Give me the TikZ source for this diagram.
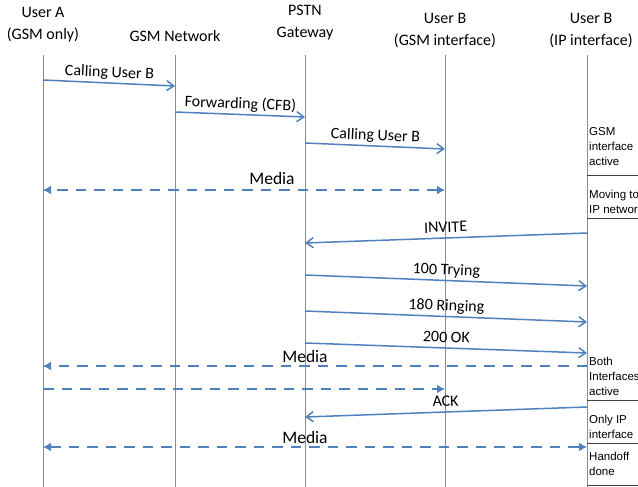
\documentclass[tikz,border=0pt]{standalone}
\usepackage{fontspec}
\setmainfont{Carlito}
\newfontfamily\notafont{Liberation Sans}
\usetikzlibrary{arrows.meta}
\definecolor{msgazul}{RGB}{79,129,189}
\tikzset{
  actor/.style={align=center, inner sep=0pt, font=\fontsize{16}{22}\selectfont},
  vida/.style={draw=black!45, line width=0.8pt},
  msg/.style={-{Straight Barb[length=7pt,width=10pt]}, draw=msgazul, line width=1.5pt},
  media/.style={draw=msgazul, line width=2pt, dash pattern=on 10.5pt off 8pt},
  tipm/.tip={Latex[length=8pt,width=9pt]},
  etiq/.style={sloped, above=4pt, inner sep=0pt, text depth=1pt,
    font=\fontsize{16}{18}\selectfont},
  etiqm/.style={anchor=base, inner sep=0pt, font=\fontsize{17.5}{20}\selectfont},
  nota/.style={anchor=north west, align=left, inner sep=0pt,
    font=\notafont\fontsize{11.5}{15}\selectfont},
  sep/.style={draw=black!75, line width=0.7pt}
}

\begin{document}
\begin{tikzpicture}[x=1pt, y=-1pt]
  \useasboundingbox (0,0) rectangle (638,487);
  % participantes
  \node[actor] (hA) at (43,25) {User A\\(GSM only)};
  \node[actor] (hGSM) at (175,36) {GSM Network};
  \node[actor] (hPSTN) at (305,23) {PSTN\\Gateway};
  \node[actor] (hBG) at (445,30) {User B\\(GSM interface)};
  \node[actor] (hBI) at (591,30) {User B\\(IP interface)};
  \coordinate (ua) at (43,0);
  \coordinate (gsm) at (175,0);
  \coordinate (pstn) at (305,0);
  \coordinate (ubg) at (445,0);
  \coordinate (ubi) at (587,0);
  \foreach \c in {ua,gsm,pstn,ubg,ubi}
    \draw[vida] (\c |- 0,55) -- (\c |- 0,487);

  % llamada GSM
  \draw[msg] (ua |- 0,80) -- node[etiq]{Calling User B} (gsm |- 0,86);
  \draw[msg] (gsm |- 0,112) -- node[etiq]{Forwarding (CFB)} (pstn |- 0,117);
  \draw[msg] (pstn |- 0,143) -- node[etiq]{Calling User B} (ubg |- 0,149);
  \draw[media, tipm-tipm] (ubg |- 0,190) -- (ua |- 0,190);
  \node[etiqm] (m1) at (272,184) {Media};

  % SIP
  \draw[msg] (ubi |- 0,233) -- node[etiq]{INVITE} (pstn |- 0,243);
  \draw[msg] (pstn |- 0,275) -- node[etiq]{100 Trying} (ubi |- 0,286);
  \draw[msg] (pstn |- 0,311) -- node[etiq]{180 Ringing} (ubi |- 0,322);
  \draw[msg] (pstn |- 0,343) -- node[etiq]{200 OK} (ubi |- 0,353);
  \draw[media, -tipm] (ubi |- 0,366) -- (ua |- 0,366);
  \node[etiqm] (m2) at (305,362) {Media};
  \draw[media, -tipm] (ua |- 0,389) -- (ubg |- 0,389);
  \draw[msg] (ubi |- 0,407) -- node[etiq]{ACK} (pstn |- 0,417);
  \draw[media, tipm-tipm] (ua |- 0,447) -- (ubi |- 0,447);
  \node[etiqm] (m3) at (305,443) {Media};

  % estados de User B
  \node[nota] (n1) at (589,127) {GSM\\interface\\active};
  \node[nota] (n2) at (589,190) {Moving to\\IP network};
  \node[nota] (n3) at (589,357) {Both\\Interfaces\\active};
  \node[nota] (n4) at (589,415) {Only IP\\interface};
  \node[nota] (n5) at (589,452) {Handoff\\done};
  \foreach \y in {175,218,400,443,485}
    \draw[sep] (ubi |- 0,\y) -- (638,\y);
\end{tikzpicture}
\end{document}
